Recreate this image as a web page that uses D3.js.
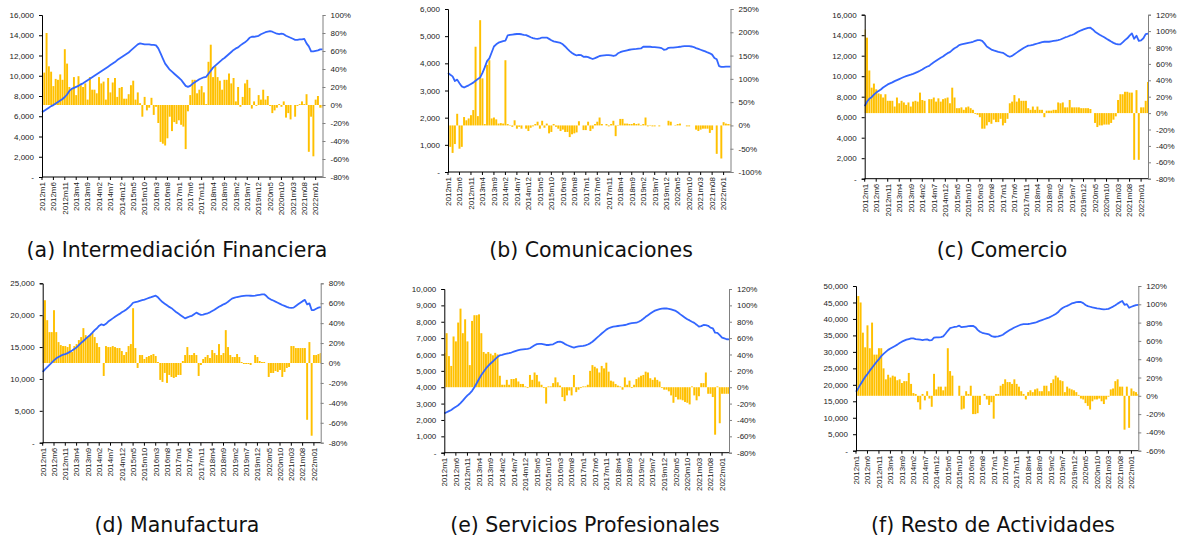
<!DOCTYPE html>
<html>
<head>
<meta charset="utf-8">
<script src="https://cdn.jsdelivr.net/npm/d3@7"></script>
<style>
  body { margin: 0; background: #fff; }
  .tick text, .xlab { font-family: "Liberation Sans", Arial, sans-serif; font-size: 8px; fill: #222; }
  .caption { font-family: "DejaVu Sans", sans-serif; font-size: 20.5px; fill: #111; }
</style>
</head>
<body>
<svg id="chart" width="1177" height="540"></svg>
<script>
// monthly series 2012m1 .. 2022m04 (124 months)
// lines = level (left axis), bars = yearly growth in % (right axis)

var finLine = [6400,6550,6700,6850,7000,7100,7250,7400,7550,7700,
  7900,8150,8500,8700,8800,8900,9000,9150,9250,9400,
  9550,9700,9850,10000,10150,10300,10450,10600,10750,10900,
  11050,11200,11350,11550,11700,11850,12000,12150,12300,12500,
  12700,12900,13100,13200,13150,13100,13100,13100,13050,13050,
  13000,12700,12200,11700,11200,10900,10600,10400,10200,10000,
  9800,9600,9300,9000,8900,9000,9200,9350,9500,9650,
  9750,9850,9900,10200,10500,10800,11000,11200,11400,11600,
  11750,11950,12150,12350,12550,12700,12800,13000,13150,13300,
  13500,13750,13850,13850,13900,13950,14100,14200,14300,14350,
  14400,14350,14250,14150,14100,14150,14100,13950,13850,13750,
  13650,13550,13550,13600,13600,13650,13200,12900,12400,12400,
  12450,12500,12600,12600];
var finBars = [58,36,80,43,37,21,29,28,34,28,
  62,46,20,18,31,11,32,22,20,24,
  6,31,17,17,13,31,24,26,6,30,
  14,25,30,9,19,20,7,7,12,22,
  27,6,14,2,-13,9,-6,-3,8,-11,
  -2,-20,-41,-43,-45,-37,-13,-29,-19,-21,
  -17,-22,-24,-49,-7,11,28,28,13,17,
  21,14,1,48,67,31,43,31,27,17,
  28,28,35,24,30,4,20,-2,9,24,
  28,19,-4,4,-1,11,6,17,6,10,
  -1,-9,-6,-3,1,-2,4,-14,-9,-16,
  0,-13,-1,1,4,1,12,-52,-13,-57,
  6,10,-3,-3];

var comLine = [3650,3580,3520,3350,3400,3270,3150,3110,3150,3190,
  3240,3290,3360,3420,3480,3650,3850,4080,4180,4400,
  4620,4700,4760,4790,4820,4840,5030,5050,5060,5070,
  5080,5080,5070,5050,5040,5000,4960,4930,4910,4900,
  4920,4950,4950,4950,4900,4850,4810,4790,4770,4750,
  4700,4620,4530,4450,4380,4330,4290,4310,4300,4240,
  4250,4230,4190,4160,4190,4230,4270,4280,4290,4300,
  4300,4290,4270,4290,4370,4410,4440,4460,4480,4500,
  4510,4520,4530,4545,4550,4610,4610,4610,4610,4600,
  4600,4590,4580,4560,4500,4510,4570,4580,4580,4590,
  4600,4610,4625,4630,4630,4630,4620,4600,4560,4530,
  4500,4470,4440,4400,4370,4320,4200,4150,3900,3870,
  3870,3880,3880,3880];
var comBars = [-43,-46,-59,-40,25,-50,-46,18,11,15,
  22,33,169,20,226,101,3,130,140,15,
  17,13,4,5,4,140,3,1,-3,11,
  -7,-3,-7,0,-7,-12,-5,-2,3,8,
  -7,10,-5,4,-17,-14,3,-3,-7,-12,
  -9,-14,-14,-25,-19,-17,-15,9,0,-10,
  -10,8,-12,-7,3,8,17,3,0,3,
  -2,3,10,-23,1,14,14,4,4,3,
  3,5,3,4,1,3,17,-2,1,-2,
  -2,0,-2,0,0,0,10,8,0,1,
  3,4,0,0,-2,-2,0,0,-9,-12,
  -9,-7,-7,-7,-16,-10,0,-61,0,-71,
  7,4,3,3];

var comeLine = [7080,7500,7800,7950,8200,8400,8550,8700,8900,9050,
  9200,9300,9400,9520,9620,9720,9820,9920,10000,10080,
  10150,10230,10320,10420,10530,10650,10800,10920,11000,11200,
  11350,11500,11650,11800,11920,12100,12250,12350,12550,12720,
  12850,13030,13100,13150,13200,13250,13300,13360,13450,13520,
  13520,13450,13200,12900,12750,12600,12520,12450,12380,12320,
  12280,12150,11980,11900,11980,12150,12300,12450,12600,12750,
  12870,12980,13000,13050,13120,13190,13260,13330,13360,13360,
  13360,13400,13440,13480,13520,13580,13680,13780,13850,13950,
  14020,14120,14250,14380,14480,14560,14640,14720,14730,14560,
  14340,14200,14050,13920,13800,13650,13520,13380,13250,13150,
  13100,13100,13300,13520,13700,13950,14170,13650,13950,13450,
  13500,13700,14100,14150];
var comeBars = [102,92,52,31,36,29,24,23,19,23,
  15,15,15,8,19,12,15,13,10,13,
  8,14,15,14,25,16,15,0,17,17,
  19,14,18,14,17,18,19,12,31,19,
  6,6,7,4,7,8,6,4,-1,-2,
  -5,-19,-19,-15,-11,-13,-8,-11,-11,-7,
  -15,-12,-7,12,14,22,14,18,15,15,
  15,6,4,8,4,8,4,4,-5,3,
  3,3,4,4,13,12,13,7,7,16,
  7,7,7,7,6,6,6,6,5,0,
  -12,-17,-15,-15,-14,-14,-14,-12,-8,-4,
  16,23,23,26,26,25,25,-57,28,-57,
  7,7,15,38];

var manuLine = [11100,11500,11850,12200,12550,12900,13230,13450,13650,13800,
  13900,14050,14250,14450,14700,14950,15300,15650,15950,16300,
  16600,16900,17250,17650,17950,18350,18570,18420,18650,19000,
  19250,19500,19750,20000,20200,20450,20650,20900,21200,21550,
  21950,22050,22120,22250,22350,22450,22580,22700,22820,22950,
  23050,22800,22400,22050,21800,21550,21300,21100,20800,20500,
  20250,20000,19750,19500,19650,19800,19900,20150,20400,20200,
  20050,20100,20200,20300,20450,20650,20850,21100,21330,21500,
  21700,21850,22100,22400,22650,22750,22850,22920,22980,23030,
  23060,23060,23050,23020,23080,23150,23200,23250,23270,23000,
  22650,22450,22300,22120,21950,21780,21600,21450,21300,21180,
  21150,21180,21450,21700,21950,22200,22400,21700,21850,20800,
  20800,21000,21180,21250];
var manuBars = [47,63,43,31,31,53,31,21,18,17,
  17,16,19,11,17,19,23,26,35,28,
  26,28,30,26,20,16,0,-13,17,16,
  16,17,16,15,15,12,8,11,17,19,
  55,15,-5,8,8,4,6,7,8,9,
  7,1,-17,-19,-10,-20,-12,-14,-15,-14,
  -12,-12,2,8,16,8,8,10,8,-13,
  -2,4,6,8,5,13,10,8,19,8,
  10,33,16,8,6,6,9,6,1,-1,
  -1,-1,-2,0,8,6,2,1,1,0,
  -14,-10,-10,-8,-9,-7,-14,-9,-5,-4,
  17,17,15,15,15,15,15,-57,21,-73,
  8,8,9,10];

var servLine = [2400,2470,2540,2610,2710,2800,2900,3030,3180,3350,
  3500,3620,3780,4000,4240,4500,4750,4950,5150,5300,
  5450,5580,5720,5850,5950,5980,6020,6050,6080,6120,
  6170,6220,6260,6290,6310,6330,6340,6380,6470,6560,
  6630,6650,6650,6620,6580,6580,6600,6620,6700,6770,
  6780,6740,6650,6580,6520,6460,6420,6460,6490,6510,
  6530,6560,6610,6680,6780,6900,7030,7150,7280,7400,
  7520,7600,7660,7700,7720,7740,7760,7780,7800,7840,
  7890,7920,7930,7940,8000,8080,8180,8300,8400,8500,
  8600,8680,8730,8770,8800,8820,8810,8790,8760,8710,
  8660,8560,8450,8350,8250,8150,8080,8000,7930,7820,
  7700,7730,7800,7790,7750,7640,7600,7330,7320,7180,
  7030,6980,6930,6920];
var servBars = [42,66,38,26,62,56,79,96,66,83,
  56,27,81,88,88,89,66,43,41,43,
  41,39,42,40,14,3,3,9,3,10,
  10,11,7,4,4,1,-1,15,9,18,
  15,7,3,-1,-20,1,1,5,12,6,
  2,-12,-17,-10,-4,-10,15,-6,-3,-1,
  1,1,3,20,27,25,23,18,26,23,
  30,19,8,7,4,2,1,-3,12,3,
  8,-1,3,10,12,14,15,19,18,11,
  9,12,9,7,-1,-3,-3,-5,-10,-19,
  -12,-15,-15,-16,-18,-19,-21,1,-10,-16,
  -11,5,5,18,-8,-8,-12,-58,1,-44,
  -8,-8,-8,-8];

var restLine = [17900,19000,20200,21300,22400,23300,24300,25200,26100,27000,
  27800,28700,29400,30000,30600,31000,31400,31800,32200,32700,
  33100,33400,33700,33900,34100,34100,33900,33800,33700,33600,
  33700,33800,33500,33600,34300,34400,34400,34500,34700,35500,
  36400,37200,37400,37600,37700,37950,37500,37600,37700,37800,
  37850,37900,37500,36700,36100,35800,35600,35450,35300,34800,
  34600,34600,34700,34900,35200,35700,36200,36650,37000,37400,
  37700,38000,38300,38400,38450,38460,38550,38700,38850,39100,
  39400,39650,39900,40150,40400,40750,41100,41500,42000,42800,
  43300,43700,43950,44300,44700,44900,45100,45150,45150,44800,
  44250,43900,43700,43500,43350,43200,43100,43000,42900,42950,
  43050,43400,43750,44150,44650,45100,45450,44300,44500,43400,
  43700,43950,44200,44250];
var restBars = [82,109,102,69,53,77,52,80,45,45,
  52,52,30,18,23,20,22,21,17,18,
  14,16,16,25,13,3,2,-7,-15,2,
  -5,5,-3,-12,24,7,10,10,6,10,
  52,27,22,0,0,11,-15,-14,5,2,
  11,-20,-20,-19,-10,0,2,-4,-10,-7,
  -25,2,2,11,13,18,15,15,13,18,
  13,10,5,2,-4,4,6,4,7,8,
  5,5,11,11,5,14,18,22,20,17,
  16,4,10,8,7,6,4,1,-3,-4,
  -8,-11,-15,-6,-4,-4,-3,-6,-9,-4,
  -1,7,8,16,18,10,10,-37,10,-35,
  8,5,4,2];

// category labels: from 2021 on the source uses zero padded months
var months = d3.range(124).map(function(i) {
  var yr = 2012 + Math.floor(i / 12), m = i % 12 + 1;
  return yr + "m" + (yr >= 2021 && m < 10 ? "0" + m : m);
});

var svg = d3.select("#chart");

var panels = [
  {cap: "(a) Intermediación Financiera", line: finLine, bars: finBars,
   L: 42, R: 322.5, T: 15, B: 177, yMax: 16000, yStep: 2000, pMin: -80, pMax: 100, pStep: 20, cx: 177, cy: 257},
  {cap: "(b) Comunicaciones", line: comLine, bars: comBars,
   L: 448, R: 730.5, T: 9, B: 172, yMax: 6000, yStep: 1000, pMin: -100, pMax: 250, pStep: 50, cx: 591, cy: 257},
  {cap: "(c) Comercio", line: comeLine, bars: comeBars,
   L: 864.7, R: 1148, T: 14.7, B: 178.7, yMax: 16000, yStep: 2000, pMin: -80, pMax: 120, pStep: 20, cx: 1002, cy: 257},
  {cap: "(d) Manufactura", line: manuLine, bars: manuBars,
   L: 42.7, R: 320.7, T: 283.3, B: 442.7, yMax: 25000, yStep: 5000, pMin: -80, pMax: 80, pStep: 20, cx: 177, cy: 532},
  {cap: "(e) Servicios Profesionales", line: servLine, bars: servBars,
   L: 444.3, R: 729, T: 289, B: 452.7, yMax: 10000, yStep: 1000, pMin: -80, pMax: 120, pStep: 20, cx: 585, cy: 532},
  {cap: "(f) Resto de Actividades", line: restLine, bars: restBars,
   L: 856, R: 1138.3, T: 286, B: 450.7, yMax: 50000, yStep: 5000, pMin: -60, pMax: 120, pStep: 20, cx: 993, cy: 532}
];

var fmtNum = d3.format(",");

panels.forEach(function(p, k) {
  var g = svg.append("g");

  var x = d3.scalePoint().domain(months).range([p.L, p.R]);
  var y = d3.scaleLinear().domain([0, p.yMax]).range([p.B, p.T]);
  var yp = d3.scaleLinear().domain([p.pMin, p.pMax]).range([p.B, p.T]);
  var bw = x.step() * 0.85;

  g.append("clipPath").attr("id", "clip" + k)
    .append("rect")
    .attr("x", p.L).attr("y", p.T - 2)
    .attr("width", p.R - p.L).attr("height", p.B - p.T + 4);

  // growth bars
  g.append("g").attr("clip-path", "url(#clip" + k + ")")
    .selectAll("rect")
    .data(p.bars)
    .join("rect")
    .attr("x", (d, i) => x(months[i]) - bw / 2)
    .attr("y", d => yp(Math.max(0, d)))
    .attr("width", bw)
    .attr("height", d => Math.abs(yp(d) - yp(0)))
    .attr("fill", "#ffc000");

  // level line
  var line = d3.line()
    .x((d, i) => x(months[i]))
    .y(d => y(d));

  g.append("path")
    .datum(p.line)
    .attr("d", line)
    .attr("fill", "none")
    .attr("stroke", "#3366ff")
    .attr("stroke-width", 1.8)
    .attr("stroke-linejoin", "round");

  // left axis
  var leftAxis = d3.axisLeft(y)
    .tickValues(d3.range(0, p.yMax + 1, p.yStep))
    .tickSize(3).tickPadding(5)
    .tickFormat(d => d === 0 ? "-" : fmtNum(d));
  var la = g.append("g")
    .attr("transform", `translate(${p.L},0)`)
    .call(leftAxis);
  la.selectAll("path, line").attr("stroke", "#000");
  la.selectAll("text").attr("font-family", null).attr("font-size", null);

  // right axis
  var rightAxis = d3.axisRight(yp)
    .tickValues(d3.range(p.pMin, p.pMax + 1, p.pStep))
    .tickSize(3).tickPadding(5)
    .tickFormat(d => d + "%");
  var ra = g.append("g")
    .attr("transform", `translate(${p.R},0)`)
    .call(rightAxis);
  ra.selectAll("path, line").attr("stroke", "#808080");
  ra.selectAll("text").attr("font-family", null).attr("font-size", null);

  // bottom category axis, a label every 5 months
  g.append("line")
    .attr("x1", p.L).attr("x2", p.R)
    .attr("y1", p.B).attr("y2", p.B)
    .attr("stroke", "#000");

  var shown = months.filter((d, i) => i % 5 === 0);
  g.selectAll(".xt")
    .data(shown)
    .join("line")
    .attr("class", "xt")
    .attr("x1", d => x(d)).attr("x2", d => x(d))
    .attr("y1", p.B).attr("y2", p.B + 3)
    .attr("stroke", "#000");

  g.selectAll(".xlab")
    .data(shown)
    .join("text")
    .attr("class", "xlab")
    .attr("transform", d => `translate(${x(d)},${p.B + 5}) rotate(-90)`)
    .attr("dy", "0.35em")
    .attr("text-anchor", "end")
    .text(d => d);

  svg.append("text")
    .attr("class", "caption")
    .attr("x", p.cx).attr("y", p.cy)
    .attr("text-anchor", "middle")
    .text(p.cap);
});
</script>
</body>
</html>
